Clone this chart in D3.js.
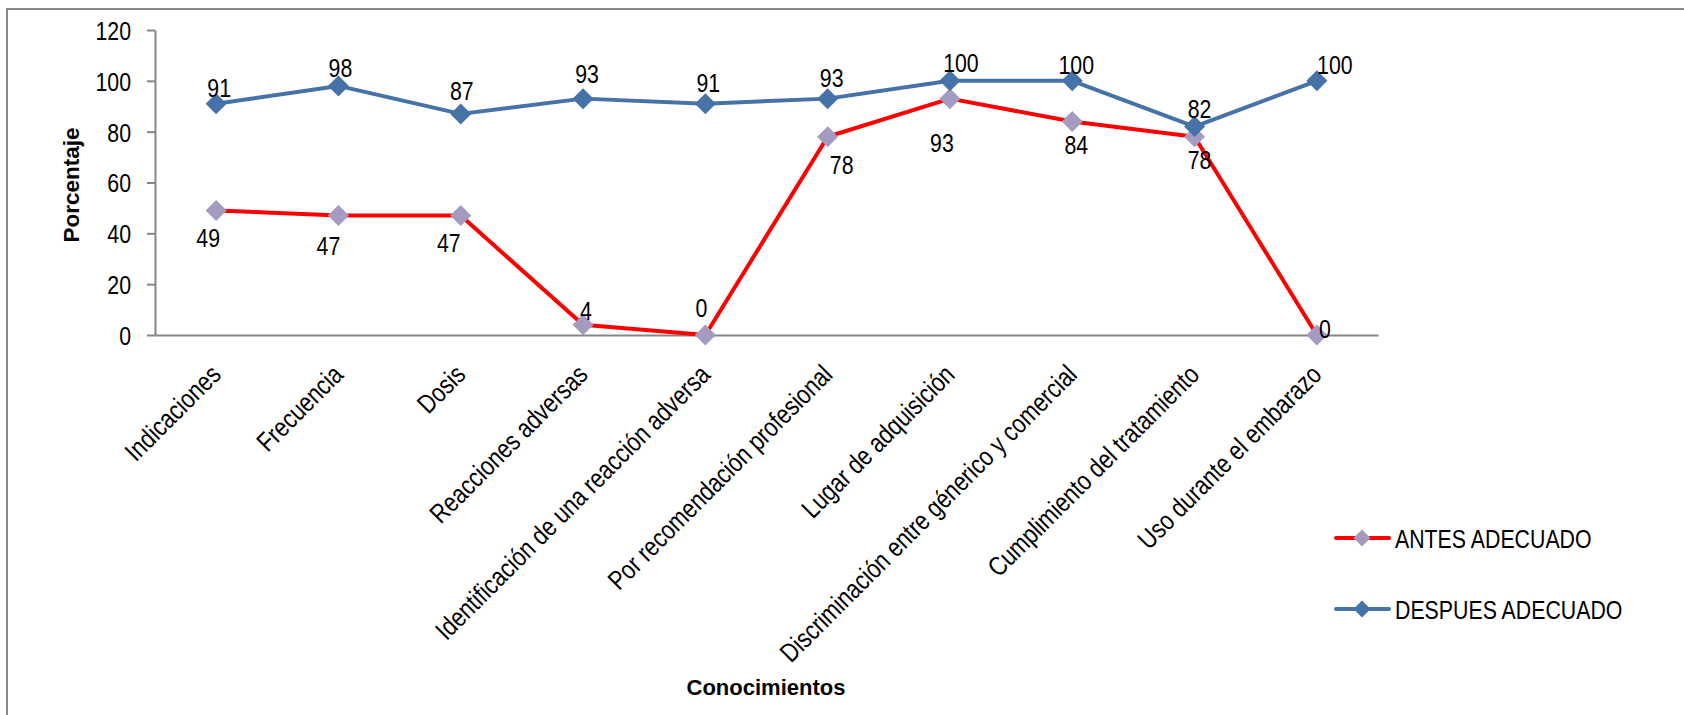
<!DOCTYPE html>
<html>
<head>
<meta charset="utf-8">
<script src="https://cdn.jsdelivr.net/npm/d3@7"></script>
<style>
  html, body { margin: 0; padding: 0; background: #fff; }
  svg { display: block; }
  text { font-family: "Liberation Sans", Arial, sans-serif; fill: #000; }
</style>
</head>
<body>
<svg id="chart" width="1684" height="715"></svg>
<script>
// ---- data ----
const categories = [
  "Indicaciones",
  "Frecuencia",
  "Dosis",
  "Reacciones adversas",
  "Identificación de una reacción adversa",
  "Por recomendación profesional",
  "Lugar de adquisición",
  "Discriminación entre génerico y comercial",
  "Cumplimiento del tratamiento",
  "Uso durante el embarazo"
];
const antes = [49, 47, 47, 4, 0, 78, 93, 84, 78, 0];
const despues = [91, 98, 87, 93, 91, 93, 100, 100, 82, 100];
const yTicks = [0, 20, 40, 60, 80, 100, 120];
const seriesNames = ["ANTES ADECUADO", "DESPUES ADECUADO"];

// ---- layout / style ----
const antesNudge = [[-8,37],[-10,39],[-12,36],[3,-5],[-4,-18],[14,37],[-8,53],[4,32],[5,32],[8,3]];
const despuesNudge = [[3,-7],[2,-9],[1,-14],[4,-16],[3,-12],[4,-12],[11,-9],[4,-7],[5,-9],[18,-7]];
const NARROW = 0.82;
const FS = 26;
const colRed = "#FF0000", colBlue = "#4572A7", colLav = "#A59BC0", colAxis = "#868686";

const svg = d3.select("#chart");

// frame
svg.append("rect").attr("x", 7).attr("y", 9).attr("width", 1700).attr("height", 720)
  .attr("fill", "none").attr("stroke", "#8a8a8a").attr("stroke-width", 2);

const x = d3.scaleBand().domain(categories).range([155, 1378]);
const y = d3.scaleLinear().domain([0, 120]).range([335, 30]);
const cx = c => x(c) + x.bandwidth() / 2;

// y axis
const yAxis = svg.append("g").attr("transform", "translate(155,0)")
  .call(d3.axisLeft(y).tickValues(yTicks).tickSize(8).tickSizeOuter(0).tickPadding(0));
yAxis.select(".domain").attr("stroke", colAxis).attr("stroke-width", 2);
yAxis.selectAll(".tick line").attr("stroke", colAxis).attr("stroke-width", 2);
yAxis.selectAll(".tick text")
  .attr("x", null).attr("dy", "0.36em")
  .attr("transform", `translate(-24,0) scale(${NARROW},1)`)
  .style("font-size", FS + "px").style("font-family", '"Liberation Sans", Arial, sans-serif')
  .attr("fill", "#000");

// x axis
const xAxis = svg.append("g").attr("transform", "translate(0,335)")
  .call(d3.axisBottom(x).tickSize(0).tickSizeOuter(0).tickPadding(0));
xAxis.select(".domain").attr("stroke", colAxis).attr("stroke-width", 2);
xAxis.selectAll(".tick text")
  .attr("y", null).attr("dy", "0.7em")
  .attr("text-anchor", "end")
  .attr("transform", `translate(-7,28) rotate(-45) scale(${NARROW},1)`)
  .style("font-size", "26.8px").style("font-family", '"Liberation Sans", Arial, sans-serif')
  .attr("fill", "#000");

// axis titles
svg.append("text").attr("transform", "translate(79,185) rotate(-90)")
  .attr("text-anchor", "middle").style("font-size", "22.5px").style("font-weight", "bold")
  .text("Porcentaje");
svg.append("text").attr("x", 766).attr("y", 695)
  .attr("text-anchor", "middle").style("font-size", "22px").style("font-weight", "bold")
  .text("Conocimientos");

const diamond = r => `M0,${-r}L${r},0L0,${r}L${-r},0Z`;
const line = d3.line().x((d, i) => cx(categories[i])).y(d => y(d));

function drawSeries(vals, lineCol, markCol, nudge, r) {
  svg.append("path").datum(vals).attr("d", line)
    .attr("fill", "none").attr("stroke", lineCol).attr("stroke-width", 4)
    .attr("stroke-linejoin", "round");
  svg.append("g").selectAll("path").data(vals).join("path")
    .attr("d", diamond(r))
    .attr("transform", (d, i) => `translate(${cx(categories[i])},${y(d)})`)
    .attr("fill", markCol);
  svg.append("g").selectAll("text").data(vals).join("text")
    .attr("text-anchor", "middle")
    .attr("transform", (d, i) => `translate(${cx(categories[i]) + nudge[i][0]},${y(d) + nudge[i][1]}) scale(${NARROW},1)`)
    .style("font-size", FS + "px")
    .text(d => d);
}
drawSeries(antes, colRed, colLav, antesNudge, 10.5);
drawSeries(despues, colBlue, colBlue, despuesNudge, 10.5);

// legend
const legend = svg.append("g");
const legendItems = [
  { name: seriesNames[0], line: colRed, mark: colLav, y: 538 },
  { name: seriesNames[1], line: colBlue, mark: colBlue, y: 609 }
];
legendItems.forEach(it => {
  legend.append("line").attr("x1", 1336).attr("x2", 1389).attr("y1", it.y).attr("y2", it.y)
    .attr("stroke", it.line).attr("stroke-width", 4).attr("stroke-linecap", "round");
  legend.append("path").attr("d", diamond(8.5)).attr("transform", `translate(1362,${it.y})`)
    .attr("fill", it.mark);
  legend.append("text").attr("transform", `translate(1395,${it.y + 10}) scale(${NARROW},1)`)
    .style("font-size", FS + "px").text(it.name);
});
</script>
</body>
</html>
